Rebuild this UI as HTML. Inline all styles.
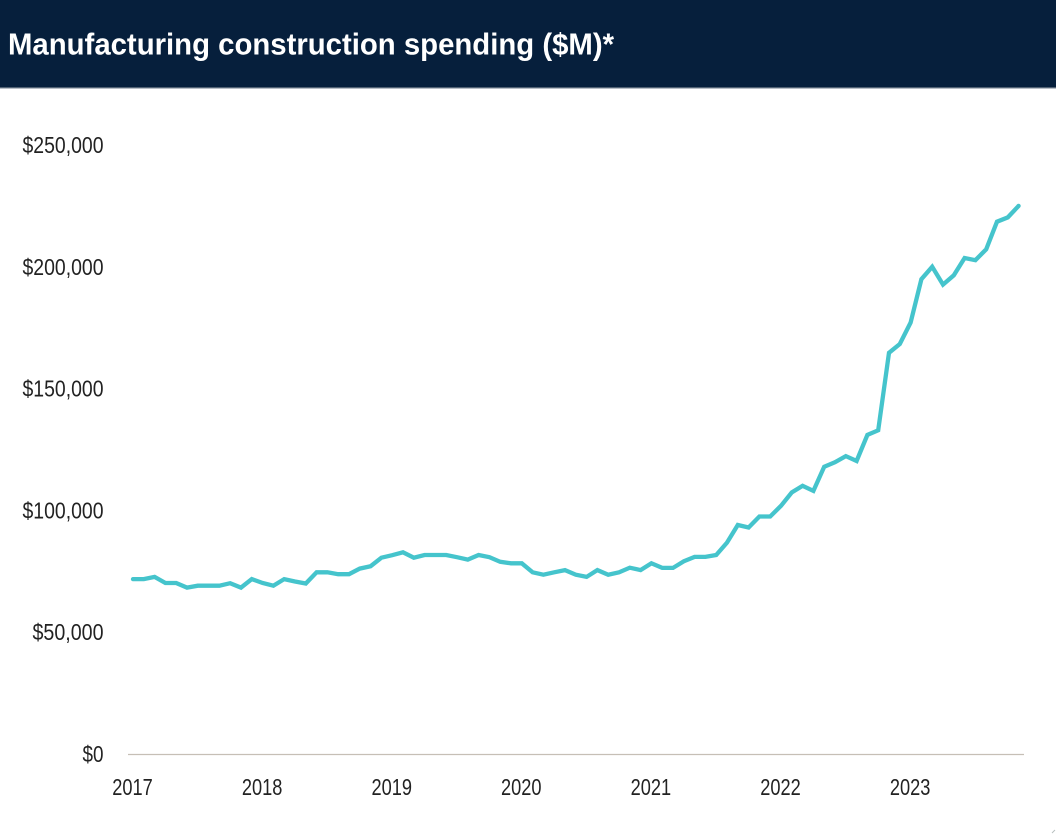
<!DOCTYPE html>
<html lang="en">
<head>
<meta charset="utf-8">
<title>Manufacturing construction spending</title>
<style>
  html, body { margin: 0; padding: 0; background: #fff; }
  body { width: 1056px; height: 834px; overflow: hidden; }
  svg { display: block; }
  text { font-family: "Liberation Sans", sans-serif; }
</style>
</head>
<body>
<svg id="chart" width="1056" height="834" viewBox="0 0 1056 834" xmlns="http://www.w3.org/2000/svg">
  <rect x="0" y="0" width="1056" height="834" fill="#ffffff"/>
  <rect x="0" y="0" width="1056" height="87.5" fill="#061f3c"/>
  <rect x="0" y="87.5" width="1056" height="1.2" fill="#9aa3ad"/>
  <text x="8" y="54.5" font-size="31" font-weight="700" fill="#ffffff" textLength="606" lengthAdjust="spacingAndGlyphs">Manufacturing construction spending ($M)*</text>
  <g id="y-ticks"></g>
  <g id="x-ticks"></g>
  <line x1="128" x2="1024" y1="754.5" y2="754.5" stroke="#c6bfb6" stroke-width="1.2"/>
  <path id="series" fill="none" stroke="#45c4cc" stroke-width="4.3" stroke-linejoin="miter" stroke-linecap="round"/>
  <line x1="1052" y1="833" x2="1055" y2="830" stroke="#b8c0c0" stroke-width="1"/>
</svg>
<script>
// Monthly spending in $ thousands of millions, Jan 2017 onward
const spending = [
  72.0, 72.0, 72.9, 70.4, 70.4, 68.5, 69.3, 69.3, 69.3, 70.3, 68.5, 72.0,
  70.4, 69.3, 72.0, 71.0, 70.2, 74.8, 74.8, 74.0, 74.0, 76.3, 77.3, 80.8,
  81.8, 83.0, 80.8, 81.9, 81.9, 81.9, 81.0, 80.0, 81.9, 81.0, 79.1, 78.5,
  78.5, 74.8, 73.8, 74.8, 75.7, 73.8, 72.9, 75.7, 73.8, 74.8, 76.7, 75.7,
  78.5, 76.6, 76.6, 79.3, 81.1, 81.1, 81.9, 87.0, 94.2, 93.2, 97.7, 97.7,
  102.1, 107.6, 110.3, 108.2, 118.1, 120.0, 122.5, 120.5, 131.2, 133.1, 164.9, 168.5,
  177.3, 195.1, 200.2, 192.9, 196.7, 203.8, 202.9, 207.4, 218.7, 220.5, 225.2
];
const yTickValues = [0, 50, 100, 150, 200, 250];
const yTickLabels = ["$0", "$50,000", "$100,000", "$150,000", "$200,000", "$250,000"];
const xTickIndexes = [0, 12, 24, 36, 48, 60, 72];
const xTickLabels = ["2017", "2018", "2019", "2020", "2021", "2022", "2023"];

const SVG_NS = "http://www.w3.org/2000/svg";
const xScale = function (i) { return 133 + i * 10.8; };
const yScale = function (v) { return 754.5 - v * 2.436; };

const seriesPath = document.getElementById("series");
seriesPath.setAttribute("d", spending.map(function (v, i) {
  return (i === 0 ? "M" : "L") + xScale(i).toFixed(1) + " " + yScale(v).toFixed(1);
}).join(" "));

const yGroup = document.getElementById("y-ticks");
yTickValues.forEach(function (v, i) {
  const label = yTickLabels[i];
  const el = document.createElementNS(SVG_NS, "text");
  
  
  el.setAttribute("x", 103.5);
  el.setAttribute("y", yScale(v) + 7.5);
  el.setAttribute("text-anchor", "end");
  el.setAttribute("font-size", "23.5");
  el.setAttribute("fill", "#222222");
  el.setAttribute("textLength", (label.length === 2 ? 21 : label.length === 7 ? 71 : 81));
  el.setAttribute("lengthAdjust", "spacingAndGlyphs");
  el.textContent = label;
  yGroup.appendChild(el);
});

const xGroup = document.getElementById("x-ticks");
xTickIndexes.forEach(function (idx, i) {
  const el = document.createElementNS(SVG_NS, "text");
  
  
  el.setAttribute("x", xScale(idx) - 0.5);
  el.setAttribute("y", 795);
  el.setAttribute("text-anchor", "middle");
  el.setAttribute("font-size", "23.5");
  el.setAttribute("fill", "#222222");
  el.setAttribute("textLength", 40.5);
  el.setAttribute("lengthAdjust", "spacingAndGlyphs");
  el.textContent = xTickLabels[i];
  xGroup.appendChild(el);
});
</script>
</body>
</html>
